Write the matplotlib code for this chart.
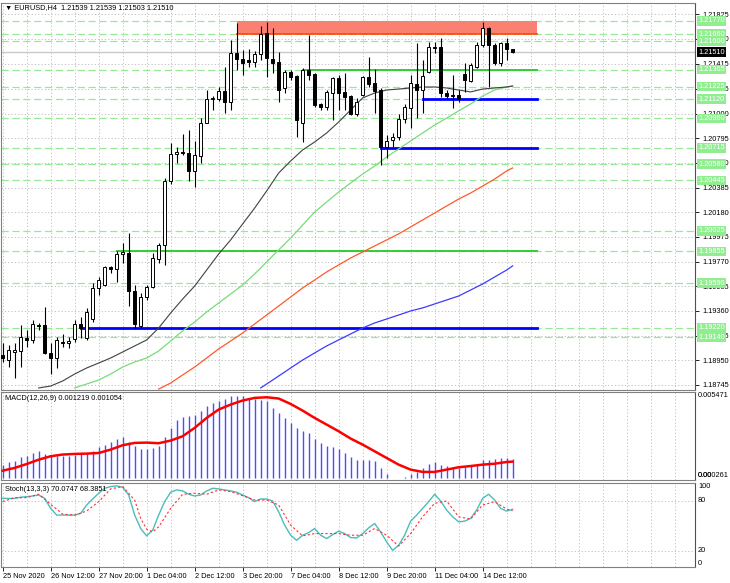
import numpy as np
import matplotlib
matplotlib.use('Agg')
import matplotlib.pyplot as plt
from matplotlib import font_manager
from matplotlib.transforms import blended_transform_factory

# MT4 uses a narrow UI font; take the narrow Liberation face when it is there
names = {f.name for f in font_manager.fontManager.ttflist}
base_font = 'Liberation Sans Narrow' if 'Liberation Sans Narrow' in names else 'Liberation Sans'
plt.rcParams['font.family'] = [base_font, 'DejaVu Sans']
FS = 6.3 if base_font.endswith('Narrow') else 5.3
plt.rcParams['font.size'] = FS

# EURUSD H4 candles, first bar 25 Nov 2020
opens = [1.18994, 1.18952, 1.19019, 1.19027, 1.19136, 1.19119, 1.19243, 1.19243, 1.19011, 1.18969,
         1.19102, 1.19094, 1.19127, 1.19252, 1.19136, 1.19293, 1.19551, 1.19576, 1.19725, 1.19709,
         1.19833, 1.19842, 1.19526, 1.19235, 1.19476, 1.19559, 1.19792, 1.19908, 1.20440, 1.20665,
         1.20681, 1.20673, 1.20523, 1.20648, 1.20922, 1.21121, 1.21121, 1.21188, 1.21096, 1.21504,
         1.21454, 1.21445, 1.21429, 1.21495, 1.21670, 1.21454, 1.21429, 1.21213, 1.21346, 1.21312,
         1.20922, 1.21362, 1.21329, 1.21080, 1.21055, 1.21171, 1.21296, 1.21180, 1.21146, 1.20997,
         1.21155, 1.21304, 1.21254, 1.21196, 1.20722, 1.20781, 1.20806, 1.20955, 1.21047, 1.21246,
         1.21196, 1.21346, 1.21553, 1.21553, 1.21171, 1.21155, 1.21155, 1.21329, 1.21271, 1.21387,
         1.21570, 1.21711, 1.21570, 1.21420, 1.21587, 1.21539]
highs = [1.19094, 1.19077, 1.19094, 1.19243, 1.19202, 1.19285, 1.19260, 1.19393, 1.19094, 1.19144,
         1.19169, 1.19144, 1.19285, 1.19310, 1.19385, 1.19592, 1.19642, 1.19734, 1.19734, 1.19858,
         1.19925, 1.20008, 1.19576, 1.19509, 1.19576, 1.19842, 1.19925, 1.20465, 1.20756, 1.20722,
         1.20830, 1.20864, 1.20772, 1.20963, 1.21196, 1.21146, 1.21221, 1.21387, 1.21612, 1.21753,
         1.21529, 1.21537, 1.21520, 1.21728, 1.21761, 1.21711, 1.21512, 1.21362, 1.21362, 1.21321,
         1.21379, 1.21653, 1.21337, 1.21088, 1.21196, 1.21304, 1.21321, 1.21337, 1.21155, 1.21130,
         1.21312, 1.21471, 1.21371, 1.21213, 1.20822, 1.20839, 1.20997, 1.21080, 1.21321, 1.21587,
         1.21445, 1.21595, 1.21595, 1.21628, 1.21196, 1.21321, 1.21196, 1.21420, 1.21420, 1.21595,
         1.21761, 1.21720, 1.21587, 1.21595, 1.21628, 1.21539]
lows = [1.18936, 1.18894, 1.18803, 1.18894, 1.19061, 1.19094, 1.19202, 1.19003, 1.18836, 1.18886,
        1.19061, 1.19052, 1.19102, 1.19136, 1.19119, 1.19268, 1.19493, 1.19567, 1.19675, 1.19601,
        1.19759, 1.19401, 1.19218, 1.19218, 1.19451, 1.19551, 1.19759, 1.19742, 1.20415, 1.20589,
        1.20656, 1.20440, 1.20390, 1.20589, 1.20922, 1.21030, 1.21105, 1.21005, 1.21030, 1.21362,
        1.21321, 1.21387, 1.21387, 1.21445, 1.21304, 1.21337, 1.21096, 1.21171, 1.21279, 1.20806,
        1.20764, 1.21279, 1.21055, 1.21030, 1.21030, 1.20947, 1.21030, 1.21030, 1.20988, 1.20980,
        1.21146, 1.21221, 1.21005, 1.20573, 1.20631, 1.20722, 1.20781, 1.20922, 1.20880, 1.20963,
        1.21005, 1.21337, 1.21504, 1.21138, 1.21130, 1.21047, 1.21096, 1.21180, 1.21263, 1.21379,
        1.21553, 1.21221, 1.21404, 1.21396, 1.21445, 1.21503]
closes = [1.18969, 1.19036, 1.19036, 1.19144, 1.19119, 1.19252, 1.19235, 1.19011, 1.18969, 1.19119,
          1.19094, 1.19110, 1.19252, 1.19218, 1.19351, 1.19551, 1.19617, 1.19725, 1.19709, 1.19833,
          1.19850, 1.19526, 1.19252, 1.19476, 1.19559, 1.19800, 1.19908, 1.20440, 1.20665, 1.20681,
          1.20673, 1.20523, 1.20656, 1.20922, 1.21121, 1.21130, 1.21188, 1.21096, 1.21504, 1.21454,
          1.21420, 1.21429, 1.21495, 1.21661, 1.21462, 1.21420, 1.21196, 1.21346, 1.21304, 1.20947,
          1.21362, 1.21321, 1.21071, 1.21055, 1.21180, 1.21296, 1.21171, 1.21138, 1.20997, 1.21096,
          1.21304, 1.21246, 1.21188, 1.20722, 1.20772, 1.20806, 1.20955, 1.21055, 1.21254, 1.21196,
          1.21312, 1.21553, 1.21545, 1.21171, 1.21146, 1.21146, 1.21130, 1.21279, 1.21404, 1.21570,
          1.21711, 1.21570, 1.21420, 1.21587, 1.21537, 1.21510]

# moving averages (bar index, value)
ma_black_idx = [6, 8, 10, 12, 14, 16, 18, 20, 22, 24, 26, 28, 30, 32, 34, 36, 38, 40, 42, 44, 46,
                48, 50, 52, 54, 56, 58, 60, 62, 64, 66, 68, 70, 72, 74, 76, 78, 80, 82, 84, 85]
ma_black = [1.18720, 1.18736, 1.18778, 1.18836, 1.18886, 1.18927, 1.18969, 1.19019, 1.19069, 1.19119,
            1.19218, 1.19343, 1.19459, 1.19567, 1.19700, 1.19833, 1.19950, 1.20083, 1.20215, 1.20357,
            1.20506, 1.20606, 1.20698, 1.20764, 1.20839, 1.20930, 1.21030, 1.21130, 1.21171, 1.21196,
            1.21204, 1.21213, 1.21221, 1.21221, 1.21213, 1.21196, 1.21180, 1.21204, 1.21213, 1.21221,
            1.21229]
ma_green_idx = list(range(12, 85, 2)) + [85]
ma_green = [1.18720, 1.18753, 1.18786, 1.18836, 1.18894, 1.18936, 1.18969, 1.19027, 1.19110, 1.19194,
            1.19268, 1.19351, 1.19426, 1.19501, 1.19576, 1.19667, 1.19767, 1.19867, 1.19966, 1.20074,
            1.20182, 1.20265, 1.20348, 1.20423, 1.20498, 1.20564, 1.20639, 1.20706, 1.20772, 1.20839,
            1.20905, 1.20963, 1.21022, 1.21080, 1.21146, 1.21196, 1.21221, 1.21229]
ma_orange_idx = list(range(26, 85, 2)) + [85]
ma_orange = [1.18711, 1.18761, 1.18828, 1.18894, 1.18969, 1.19044, 1.19110, 1.19177, 1.19252, 1.19326,
             1.19401, 1.19476, 1.19551, 1.19617, 1.19684, 1.19742, 1.19800, 1.19850, 1.19900, 1.19950,
             1.20000, 1.20058, 1.20116, 1.20174, 1.20232, 1.20290, 1.20340, 1.20398, 1.20456, 1.20523,
             1.20548]
ma_blue_idx = [43, 44] + list(range(46, 85, 2)) + [85]
ma_blue = [1.18720, 1.18753, 1.18819, 1.18886, 1.18952, 1.19011, 1.19069, 1.19119, 1.19169, 1.19218,
           1.19260, 1.19293, 1.19326, 1.19360, 1.19385, 1.19418, 1.19451, 1.19484, 1.19534, 1.19584,
           1.19642, 1.19700, 1.19734]

# MACD(12,26,9)
macd = [0.00086, 0.00103, 0.00112, 0.00133, 0.00144, 0.00161, 0.00172, 0.00157, 0.00146, 0.00144,
        0.00144, 0.00140, 0.00151, 0.00155, 0.00159, 0.00172, 0.00198, 0.00215, 0.00232, 0.00254,
        0.00264, 0.00232, 0.00209, 0.00189, 0.00189, 0.00194, 0.00206, 0.00262, 0.00323, 0.00376,
        0.00393, 0.00398, 0.00409, 0.00434, 0.00462, 0.00484, 0.00495, 0.00512, 0.00527, 0.00531,
        0.00527, 0.00516, 0.00510, 0.00505, 0.00499, 0.00452, 0.00419, 0.00387, 0.00355, 0.00323,
        0.00305, 0.00290, 0.00254, 0.00226, 0.00204, 0.00200, 0.00189, 0.00161, 0.00133, 0.00118,
        0.00114, 0.00114, 0.00108, 0.00065, 0.00026, 0.00000, 0.00002, 0.00004, 0.00026, 0.00039,
        0.00065, 0.00090, 0.00103, 0.00086, 0.00075, 0.00065, 0.00065, 0.00069, 0.00075, 0.00086,
        0.00118, 0.00116, 0.00122, 0.00127, 0.00129, 0.001219]
signal_idx = list(range(0, 85, 2)) + [85]
signal = [0.00047, 0.00065, 0.00090, 0.00118, 0.00140, 0.00151, 0.00155, 0.00157, 0.00161, 0.00183,
          0.00211, 0.00226, 0.00228, 0.00224, 0.00241, 0.00269, 0.00323, 0.00387, 0.00441, 0.00473,
          0.00499, 0.00516, 0.00520, 0.00512, 0.00477, 0.00434, 0.00387, 0.00344, 0.00301, 0.00254,
          0.00215, 0.00172, 0.00129, 0.00086, 0.00054, 0.00039, 0.00039, 0.00054, 0.00069, 0.00077,
          0.00086, 0.00092, 0.00103, 0.001054]

# Stochastic(13,3,3)
stoch_k = [83.2, 83.0, 83.2, 84.5, 85.2, 86.0, 87.2, 83.2, 71.1, 63.1,
           63.1, 63.0, 63.1, 65.1, 75.2, 82.4, 89.3, 95.3, 97.3, 98.1,
           96.5, 87.2, 63.1, 47.0, 38.1, 45.0, 63.1, 79.2, 90.5, 93.3,
           92.1, 88.1, 86.0, 87.2, 92.1, 95.3, 94.5, 93.3, 92.1, 90.5,
           87.2, 84.0, 79.2, 82.4, 82.4, 80.0, 67.1, 51.0, 38.9, 32.9,
           38.9, 42.1, 47.0, 38.9, 34.9, 39.7, 43.8, 40.9, 36.1, 35.7,
           40.9, 47.8, 53.0, 42.9, 30.9, 20.8, 26.8, 38.9, 55.8, 63.1,
           71.1, 79.2, 88.1, 80.0, 69.1, 61.1, 55.0, 55.8, 59.1, 69.1,
           83.2, 88.1, 81.2, 71.1, 67.9, 70.07]
stoch_d_idx = list(range(0, 23, 2)) + [23, 24, 25, 26] + list(range(28, 85, 2)) + [85]
stoch_d = [79.2, 84.0, 84.0, 88.1, 76.0, 64.3, 63.1, 67.9, 79.2, 94.5, 97.3, 81.2,
           59.1, 46.2, 43.0, 49.0,
           71.1, 88.1, 89.3, 88.1, 93.3, 91.3, 86.4, 81.2, 81.2, 75.2, 51.0, 38.1, 40.9, 40.9,
           40.9, 38.9, 38.9, 47.0, 38.9, 26.0, 40.9, 61.1, 77.2, 80.0, 61.1, 58.3, 75.2, 79.2,
           70.3, 68.39]

# price axis and horizontal levels
price_ticks = [1.18745, 1.18950, 1.19155, 1.19360, 1.19565, 1.19770, 1.19975, 1.20180,
               1.20385, 1.20590, 1.20795, 1.21000, 1.21205, 1.21415, 1.21620, 1.21825]
level_labels = [1.21770, 1.21660, 1.21600, 1.21365, 1.21225, 1.21120, 1.20960, 1.20715,
                1.20580, 1.20445, 1.20025, 1.19855, 1.19590, 1.19220, 1.19140]
zone = (1.21660, 1.21770)
green_lines = [(50, 1.21365), (19, 1.19855)]
blue_lines = [(70, 1.21120), (63, 1.20715), (13, 1.19220)]
last_price = 1.21510
date_pos = [0, 8, 16, 24, 32, 40, 48, 56, 64, 72, 80]
date_labels = ['25 Nov 2020', '26 Nov 12:00', '27 Nov 20:00', '1 Dec 04:00', '2 Dec 12:00',
               '3 Dec 20:00', '7 Dec 04:00', '8 Dec 12:00', '9 Dec 20:00', '11 Dec 04:00',
               '14 Dec 12:00']

W, H = 730.0, 583.0


def box(top, bottom, left=1, right=695):
    return [left / W, 1 - bottom / H, (right - left) / W, (bottom - top) / H]


fig = plt.figure(figsize=(7.30, 5.83), dpi=100)
ax = fig.add_axes(box(3, 390))
ax2 = fig.add_axes(box(392, 480))
ax3 = fig.add_axes(box(483, 567))

xmin, xmax = -0.28, 115.4
grid_kw = dict(color='#b8b8b8', lw=0.6, linestyle=(0, (1.5, 2.5)), zorder=0)
for a in (ax, ax2, ax3):
    a.set_xlim(xmin, xmax)
    for s in a.spines.values():
        s.set_color('#808080')
        s.set_linewidth(0.8)
    a.spines['right'].set_color('#505050')
    for gx in range(0, 116, 4):
        a.axvline(gx, **grid_kw)
    a.yaxis.tick_right()
    a.tick_params(axis='y', length=3, width=0.6, pad=2, labelsize=FS, colors='black')
    a.tick_params(axis='x', bottom=False, labelbottom=False)

# ---------- main price panel ----------
ax.set_ylim(1.18703, 1.21919)
ax.set_yticks(price_ticks)
ax.set_yticklabels([f'{p:.5f}' for p in price_ticks])
for p in price_ticks:
    ax.axhline(p, **grid_kw)

for lv in level_labels:
    ax.axhline(lv, color='#98e898', lw=0.9, linestyle=(0, (5.8, 2.9)), zorder=1)
ax.axhline(last_price, color='#c8c8c8', lw=1.0, zorder=1)

ax.fill_between([39, 89], zone[0], zone[1], color='#fa8072', lw=0, zorder=2)
ax.plot([39, 89], [zone[0], zone[0]], color='#ff4500', lw=1.2, zorder=2)
for start, lv in green_lines:
    ax.plot([start, 89], [lv, lv], color='#32cd32', lw=1.4, zorder=2)
for start, lv in blue_lines:
    ax.plot([start, 89], [lv, lv], color='#0000ff', lw=2.0, zorder=2)

ax.plot(ma_blue_idx, ma_blue, color='#3c3cff', lw=0.9, zorder=3)
ax.plot(ma_orange_idx, ma_orange, color='#ff5a28', lw=0.9, zorder=3)
ax.plot(ma_green_idx, ma_green, color='#78dc78', lw=0.9, zorder=3)
ax.plot(ma_black_idx, ma_black, color='#404040', lw=0.8, zorder=3)

idx = np.arange(len(opens))
o, h, l, c = (np.array(v) for v in (opens, highs, lows, closes))
up = c >= o
ax.vlines(idx, l, h, color='black', lw=0.8, zorder=4)
body_lo = np.minimum(o, c)
body_h = np.maximum(np.abs(c - o), 0.00002)
ax.bar(idx, body_h, bottom=body_lo, width=0.55, color=np.where(up, 'white', 'black'),
       edgecolor='black', linewidth=0.7, zorder=5)

trans = blended_transform_factory(ax.transAxes, ax.transData)
xlab = 1.0 + 3.0 / 694
for lv in level_labels:
    ax.text(xlab, lv, f'{lv:.5f}', transform=trans, ha='left', va='center', fontsize=FS,
            color='white', zorder=8, clip_on=False,
            bbox=dict(boxstyle='square,pad=0.18', fc='#90ee90', ec='none'))
ax.text(xlab, last_price, f'{last_price:.5f}', transform=trans, ha='left', va='center',
        fontsize=FS, color='white', zorder=9, clip_on=False,
        bbox=dict(boxstyle='square,pad=0.18', fc='black', ec='none'))

ax.text(4 / 694, 1 - 5 / 387, '\u25bc EURUSD,H4  1.21539 1.21539 1.21503 1.21510',
        transform=ax.transAxes, ha='left', va='center', fontsize=FS, zorder=9)

# ---------- MACD panel ----------
ax2.set_ylim(-0.00013, 0.00554)
ax2.set_yticks([])
ax2.vlines(idx, 0, macd, color='#4b4bff', lw=1.0, zorder=3)
ax2.plot(signal_idx, signal, color='#ff0000', lw=1.8, zorder=4)
ax2.text(4 / 694, 1 - 3 / 88, 'MACD(12,26,9) 0.001219 0.001054', transform=ax2.transAxes,
         ha='left', va='top', fontsize=FS)
ax2.text(xlab, 1.0, '0.005471', transform=ax2.transAxes, ha='left', va='top', fontsize=FS,
         clip_on=False)
ax2.text(xlab, 0.01, '0.000261', transform=ax2.transAxes, ha='left', va='bottom', fontsize=FS,
         clip_on=False)
ax2.text(xlab, 0.01, '0.00', transform=ax2.transAxes, ha='left', va='bottom', fontsize=FS,
         clip_on=False)

# ---------- Stochastic panel ----------
ax3.set_ylim(0.8, 101.6)
ax3.set_yticks([])
for lv in (20, 80):
    ax3.axhline(lv, **grid_kw)
ax3.plot(idx, stoch_k, color='#4cbcbc', lw=1.0, zorder=3)
ax3.plot(stoch_d_idx, stoch_d, color='#ff3030', lw=0.8, linestyle=(0, (2, 2)), zorder=4)
ax3.text(4 / 694, 1 - 3 / 84, 'Stoch(13,3,3) 70.0747 68.3851', transform=ax3.transAxes,
         ha='left', va='top', fontsize=FS)
trans3 = blended_transform_factory(ax3.transAxes, ax3.transData)
ax3.text(xlab, 1.0, '100', transform=ax3.transAxes, ha='left', va='top', fontsize=FS, clip_on=False)
ax3.text(xlab, 80, '80', transform=trans3, ha='left', va='center', fontsize=FS, clip_on=False)
ax3.text(xlab, 20, '20', transform=trans3, ha='left', va='center', fontsize=FS, clip_on=False)
ax3.text(xlab, 0.0, '0', transform=ax3.transAxes, ha='left', va='bottom', fontsize=FS, clip_on=False)

ax3.tick_params(axis='x', bottom=True, labelbottom=True, length=3, width=0.6, pad=1,
                labelsize=FS)
ax3.set_xticks(date_pos)
ax3.set_xticklabels(date_labels, ha='left')

fig.savefig('out.png', dpi=100, facecolor='white')
